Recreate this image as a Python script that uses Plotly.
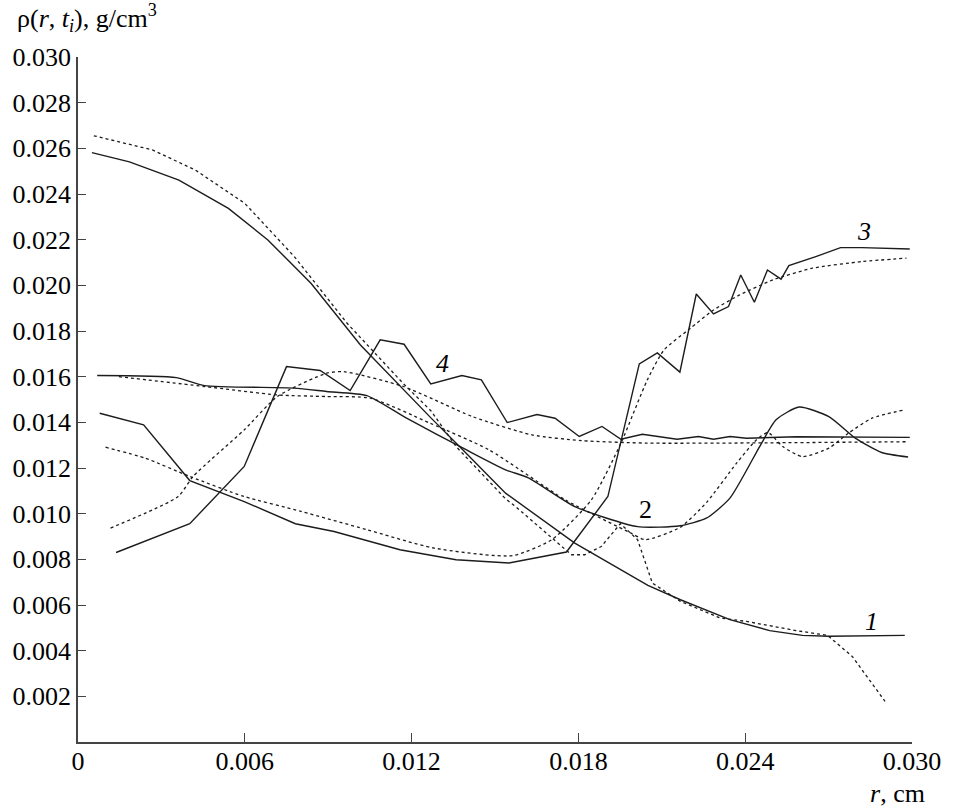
import plotly.graph_objects as go

# Density profiles rho(r, t_i): solid = computed, dotted = approximation
r1_solid = [0.0005, 0.00185, 0.00363, 0.00541, 0.00683, 0.00838, 0.01016, 0.0117, 0.01265,
            0.01384, 0.01538, 0.01787, 0.0205, 0.02167, 0.02345, 0.02488, 0.02606, 0.02701,
            0.0285, 0.02974]
rho1_solid = [0.02581, 0.02541, 0.02461, 0.02337, 0.02199, 0.02009, 0.01739, 0.01542, 0.01425,
              0.0128, 0.0109, 0.00871, 0.00686, 0.00623, 0.00536, 0.00488, 0.00467, 0.00463,
              0.00464, 0.00467]
r1_dot = [0.00057, 0.00268, 0.00422, 0.006, 0.00778, 0.00968, 0.0117, 0.0127, 0.0136, 0.01538,
          0.01574, 0.01775, 0.01823, 0.01882, 0.01951, 0.02013, 0.02066, 0.02167, 0.0231,
          0.02405, 0.02583, 0.02696, 0.02785, 0.02903]
rho1_dot = [0.02655, 0.02593, 0.02505, 0.02359, 0.02126, 0.01834, 0.0157, 0.0145, 0.01294,
            0.01065, 0.01031, 0.0082, 0.0082, 0.00856, 0.00956, 0.00886, 0.00696, 0.00616,
            0.00543, 0.00528, 0.00488, 0.00467, 0.00375, 0.00178]

r2_solid = [0.00069, 0.00354, 0.00455, 0.00776, 0.00894, 0.01039, 0.01182, 0.01396, 0.01538,
            0.0162, 0.01787, 0.02013, 0.02166, 0.0226, 0.02345, 0.02452, 0.02511, 0.02594,
            0.02701, 0.02796, 0.02891, 0.02986]
rho2_solid = [0.01605, 0.01596, 0.01561, 0.0155, 0.01535, 0.01517, 0.01418, 0.0128, 0.01192,
              0.01157, 0.01031, 0.00943, 0.00947, 0.0098, 0.01068, 0.01294, 0.01411, 0.01467,
              0.01425, 0.01331, 0.01268, 0.01248]
r2_dot = [0.00147, 0.00455, 0.00717, 0.00894, 0.01051, 0.01265, 0.01478, 0.01752, 0.01989,
          0.0204, 0.02166, 0.0226, 0.02369, 0.0244, 0.02482, 0.02535, 0.02606, 0.02701,
          0.02772, 0.02856, 0.02974]
rho2_dot = [0.016, 0.01557, 0.0152, 0.01513, 0.01506, 0.01397, 0.0128, 0.01061, 0.00915,
            0.00886, 0.0094, 0.01048, 0.01221, 0.01323, 0.01355, 0.01294, 0.0125, 0.01287,
            0.01353, 0.01418, 0.01455]

r3_solid = [0.00078, 0.00236, 0.00402, 0.00598, 0.00782, 0.00921, 0.01158, 0.0136, 0.0155,
            0.01757, 0.01906, 0.02019, 0.02084, 0.02165, 0.02224, 0.02286, 0.0234, 0.02384,
            0.02433, 0.0248, 0.02529, 0.02557, 0.02654, 0.02743, 0.0282, 0.02992]
rho3_solid = [0.0144, 0.01389, 0.01145, 0.01053, 0.00956, 0.00922, 0.00842, 0.00798, 0.00784,
              0.00832, 0.01075, 0.01656, 0.01704, 0.0162, 0.01962, 0.01875, 0.01907, 0.02045,
              0.01926, 0.02067, 0.02027, 0.02086, 0.02126, 0.02165, 0.02165, 0.02159]
r3_dot = [0.00099, 0.00242, 0.00402, 0.00598, 0.00802, 0.01039, 0.01277, 0.01562, 0.01704,
          0.01847, 0.01953, 0.02048, 0.02108, 0.02203, 0.02286, 0.0238, 0.025, 0.02642,
          0.0282, 0.0298]
rho3_dot = [0.01291, 0.01243, 0.01163, 0.01075, 0.0101, 0.0093, 0.0085, 0.00816, 0.00886,
            0.01061, 0.01309, 0.01586, 0.01717, 0.01812, 0.01892, 0.01958, 0.02024, 0.02075,
            0.02104, 0.02119]

r4_solid = [0.00137, 0.00402, 0.00598, 0.0075, 0.00871, 0.00979, 0.01087, 0.01173, 0.01269,
            0.01381, 0.01451, 0.01544, 0.01651, 0.01716, 0.01803, 0.01885, 0.01953, 0.0203,
            0.02155, 0.02232, 0.02286, 0.02345, 0.02405, 0.02583, 0.02992]
rho4_solid = [0.0083, 0.00956, 0.01207, 0.01644, 0.01627, 0.01539, 0.01761, 0.01742, 0.01568,
              0.01605, 0.01586, 0.01399, 0.01434, 0.01418, 0.01338, 0.01382, 0.01326, 0.01348,
              0.01326, 0.01338, 0.01326, 0.01338, 0.0133, 0.01337, 0.01334]
r4_dot = [0.00117, 0.0036, 0.00414, 0.00598, 0.00717, 0.00894, 0.00956, 0.0117, 0.01419,
          0.01633, 0.01811, 0.02048, 0.0298]
rho4_dot = [0.00937, 0.01075, 0.01163, 0.01367, 0.01513, 0.01615, 0.01622, 0.01557, 0.01425,
            0.01345, 0.0132, 0.01309, 0.01315]

# Curve numbers: (text, r, rho)
curve_labels = [("<i>1</i>", 0.02855, 0.00528), ("2", 0.02042, 0.01017),
                ("<i>3</i>", 0.02826, 0.02235), ("<i>4</i>", 0.01312, 0.01659)]

x_ticks = [0, 0.006, 0.012, 0.018, 0.024, 0.030]
x_ticktext = ["0", "0.006", "0.012", "0.018", "0.024", "0.030"]
y_ticks = [0.002, 0.004, 0.006, 0.008, 0.010, 0.012, 0.014, 0.016, 0.018, 0.020,
           0.022, 0.024, 0.026, 0.028, 0.030]
y_ticktext = ["%.3f" % v for v in y_ticks]

INK = "#1c1c1c"
FONT = "Times New Roman, Liberation Serif, serif"
TICK_FONT = dict(family=FONT, size=26, color="black")

fig = go.Figure()

solid_sets = [(r1_solid, rho1_solid, "linear"), (r2_solid, rho2_solid, "spline"),
              (r3_solid, rho3_solid, "linear"), (r4_solid, rho4_solid, "linear")]
dot_sets = [(r1_dot, rho1_dot, "linear"), (r2_dot, rho2_dot, "spline"),
            (r3_dot, rho3_dot, "spline"), (r4_dot, rho4_dot, "spline")]

for xs, ys, shape in solid_sets:
    fig.add_trace(go.Scatter(x=xs, y=ys, mode="lines",
                             line=dict(color=INK, width=1.4, shape=shape, smoothing=0.6),
                             showlegend=False, hoverinfo="skip"))
for xs, ys, shape in dot_sets:
    fig.add_trace(go.Scatter(x=xs, y=ys, mode="lines",
                             line=dict(color=INK, width=1.3, dash="3px,3px", shape=shape,
                                       smoothing=0.6),
                             showlegend=False, hoverinfo="skip"))

for text, rx, ry in curve_labels:
    fig.add_annotation(x=rx, y=ry, text=text, showarrow=False,
                       font=dict(family=FONT, size=26, color="black"))

fig.add_annotation(xref="paper", yref="paper", x=-0.075, y=1.0, yshift=19,
                   xanchor="left", yanchor="bottom", showarrow=False,
                   text="ρ(<i>r</i>, <i>t</i><sub><i>i</i></sub>), g/cm<sup>3</sup>",
                   font=dict(family=FONT, size=26, color="black"))
fig.add_annotation(xref="paper", yref="paper", x=1.018, y=0, yshift=-35,
                   xanchor="right", yanchor="top", showarrow=False,
                   text="<i>r</i>, cm",
                   font=dict(family=FONT, size=26, color="black"))

fig.update_layout(
    width=953, height=807,
    margin=dict(l=75, r=36, t=57, b=65),
    paper_bgcolor="white", plot_bgcolor="white",
    font=dict(family=FONT, size=26, color="black"),
    xaxis=dict(range=[0, 0.030], tickvals=x_ticks, ticktext=x_ticktext,
               ticks="inside", ticklen=9, tickwidth=1.3, tickcolor="#444",
               showline=True, linecolor="#444", linewidth=1.6,
               tickfont=TICK_FONT, ticklabelstandoff=-5,
               showgrid=False, zeroline=False, fixedrange=True),
    yaxis=dict(range=[0, 0.030], tickvals=y_ticks, ticktext=y_ticktext,
               ticks="inside", ticklen=8, tickwidth=1.3, tickcolor="#444",
               showline=True, linecolor="#444", linewidth=1.6,
               tickfont=TICK_FONT,
               showgrid=False, zeroline=False, fixedrange=True),
)

fig.write_html("out.html")
